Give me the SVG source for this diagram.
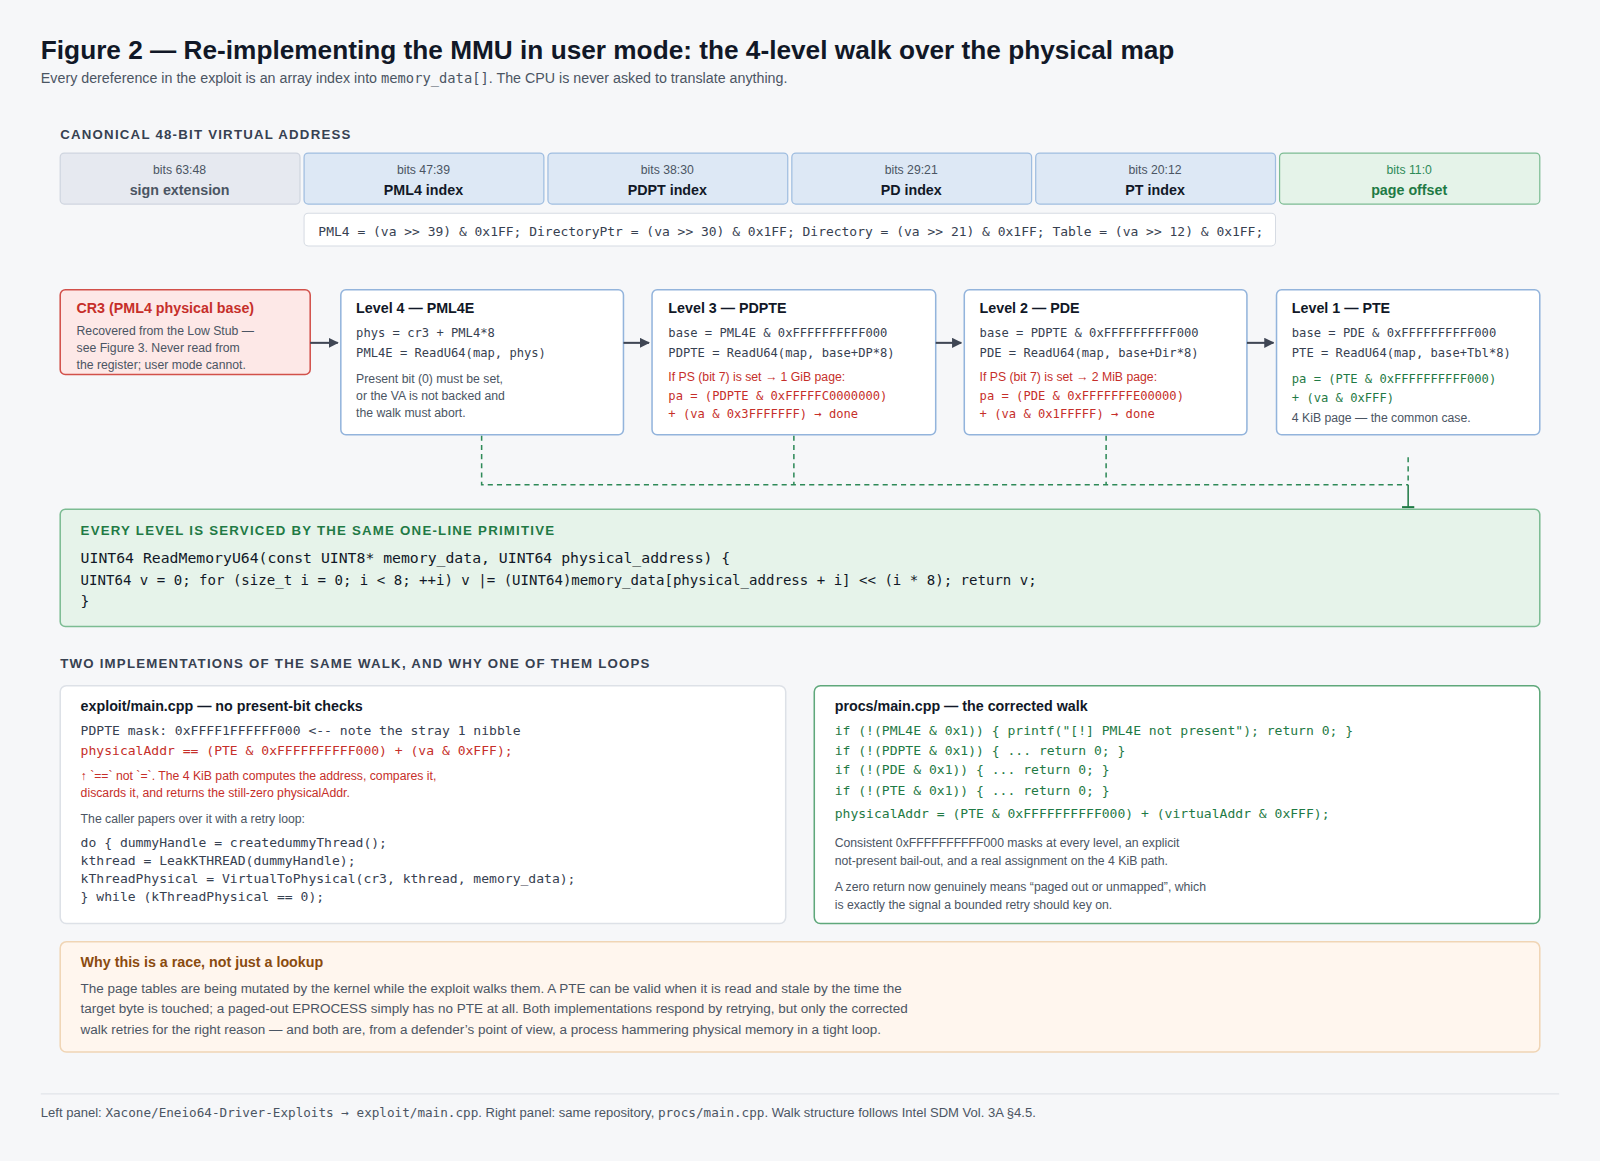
<svg xmlns="http://www.w3.org/2000/svg" width="1600" height="1161" viewBox="0 0 1600 1161">
<style>
.s{font-family:"Liberation Sans",Arial,sans-serif}
.m{font-family:"DejaVu Sans Mono","Liberation Mono",monospace}
.t{font-family:"Liberation Sans",Arial,sans-serif;font-weight:bold;font-size:14px;fill:#111827}
.n{font-family:"Liberation Sans",Arial,sans-serif;font-size:12px;fill:#4b5563}
.c{font-family:"DejaVu Sans Mono","Liberation Mono",monospace;font-size:11.9px;fill:#374151}
.p{font-size:12.8px}
.r{fill:#c62f2a}.g{fill:#1f7a45}
.sec{font-family:"Liberation Sans",Arial,sans-serif;font-weight:bold;font-size:13px;letter-spacing:1.2px;fill:#374151}
.node{fill:#fff;stroke:#93b4dc;stroke-width:1.5}
.bit{fill:#dde8f5;stroke:#9fbde0;stroke-width:1.2}
.bl{font-family:"Liberation Sans",Arial,sans-serif;font-size:12px;fill:#4b5563;text-anchor:middle}
.bb{font-family:"Liberation Sans",Arial,sans-serif;font-size:14px;font-weight:bold;fill:#111827;text-anchor:middle}
.arr{stroke:#3f4654;stroke-width:2;fill:none;marker-end:url(#ah)}
.dash{stroke:#2e8a58;stroke-width:1.5;fill:none;stroke-dasharray:5 4}
</style>
<defs>
<marker id="ah" viewBox="0 0 10 10" refX="9" refY="5" markerWidth="5" markerHeight="5" orient="auto"><path d="M0,0L10,5L0,10z" fill="#3f4654"/></marker>
</defs>
<rect width="1600" height="1161" fill="#f6f7f9"/>
<g transform="scale(1.0204)">
<text x="40" y="58" class="s" font-size="25.7" font-weight="bold" fill="#111827">Figure 2 — Re-implementing the MMU in user mode: the 4-level walk over the physical map</text>
<text x="40" y="81" class="s" font-size="14" fill="#4b5563">Every dereference in the exploit is an array index into <tspan class="m" font-size="13.5">memory_data[]</tspan>. The CPU is never asked to translate anything.</text>

<text x="59" y="136" class="sec">CANONICAL 48-BIT VIRTUAL ADDRESS</text>
<g id="bits">
<rect x="59" y="150" width="235" height="50" rx="4" fill="#e6e9f0" stroke="#cfd5df" stroke-width="1.2"/>
<text x="176" y="171" class="bl">bits 63:48</text><text x="176" y="191" class="bb" style="fill:#4b5563">sign extension</text>
<rect x="298" y="150" width="235" height="50" rx="4" class="bit"/>
<text x="415" y="171" class="bl">bits 47:39</text><text x="415" y="191" class="bb">PML4 index</text>
<rect x="537" y="150" width="235" height="50" rx="4" class="bit"/>
<text x="654" y="171" class="bl">bits 38:30</text><text x="654" y="191" class="bb">PDPT index</text>
<rect x="776" y="150" width="235" height="50" rx="4" class="bit"/>
<text x="893" y="171" class="bl">bits 29:21</text><text x="893" y="191" class="bb">PD index</text>
<rect x="1015" y="150" width="235" height="50" rx="4" class="bit"/>
<text x="1132" y="171" class="bl">bits 20:12</text><text x="1132" y="191" class="bb">PT index</text>
<rect x="1254" y="150" width="255" height="50" rx="4" fill="#e5f3e9" stroke="#7cbc93" stroke-width="1.2"/>
<text x="1381" y="171" class="bl" style="fill:#2e8a58">bits 11:0</text><text x="1381" y="191" class="bb" style="fill:#1f7a45">page offset</text>
</g>
<g id="formula">
<rect x="298" y="209" width="952" height="32" rx="4" fill="#fff" stroke="#d6dbe3"/>
<text x="312" y="231" class="m" font-size="12.4" fill="#374151" textLength="926" lengthAdjust="spacingAndGlyphs">PML4 = (va &gt;&gt; 39) &amp; 0x1FF; DirectoryPtr = (va &gt;&gt; 30) &amp; 0x1FF; Directory = (va &gt;&gt; 21) &amp; 0x1FF; Table = (va &gt;&gt; 12) &amp; 0x1FF;</text>
</g>

<g id="cr3">
<rect x="59" y="284" width="245" height="83" rx="5" fill="#fde8e7" stroke="#d2504a" stroke-width="1.5"/>
<text x="75" y="307" class="t" style="fill:#c62f2a">CR3 (PML4 physical base)</text>
<text x="75" y="328" class="n">Recovered from the Low Stub —</text>
<text x="75" y="345" class="n">see Figure 3. Never read from</text>
<text x="75" y="362" class="n">the register; user mode cannot.</text>
</g>
<g id="pml4e">
<rect x="334" y="284" width="277" height="142" rx="5" class="node"/>
<text x="349" y="307" class="t">Level 4 — PML4E</text>
<text x="349" y="330" class="c">phys = cr3 + PML4*8</text>
<text x="349" y="350" class="c">PML4E = ReadU64(map, phys)</text>
<text x="349" y="375" class="n">Present bit (0) must be set,</text>
<text x="349" y="392" class="n">or the VA is not backed and</text>
<text x="349" y="409" class="n">the walk must abort.</text>
</g>
<g id="pdpte">
<rect x="639" y="284" width="278" height="142" rx="5" class="node"/>
<text x="655" y="307" class="t">Level 3 — PDPTE</text>
<text x="655" y="330" class="c">base = PML4E &amp; 0xFFFFFFFFFF000</text>
<text x="655" y="350" class="c">PDPTE = ReadU64(map, base+DP*8)</text>
<text x="655" y="373" class="n r">If PS (bit 7) is set → 1 GiB page:</text>
<text x="655" y="392" class="c r">pa = (PDPTE &amp; 0xFFFFFC0000000)</text>
<text x="655" y="410" class="c r">+ (va &amp; 0x3FFFFFFF) → done</text>
</g>
<g id="pde">
<rect x="945" y="284" width="277" height="142" rx="5" class="node"/>
<text x="960" y="307" class="t">Level 2 — PDE</text>
<text x="960" y="330" class="c">base = PDPTE &amp; 0xFFFFFFFFFF000</text>
<text x="960" y="350" class="c">PDE = ReadU64(map, base+Dir*8)</text>
<text x="960" y="373" class="n r">If PS (bit 7) is set → 2 MiB page:</text>
<text x="960" y="392" class="c r">pa = (PDE &amp; 0xFFFFFFFE00000)</text>
<text x="960" y="410" class="c r">+ (va &amp; 0x1FFFFF) → done</text>
</g>
<g id="pte">
<rect x="1251" y="284" width="258" height="142" rx="5" class="node"/>
<text x="1266" y="307" class="t">Level 1 — PTE</text>
<text x="1266" y="330" class="c">base = PDE &amp; 0xFFFFFFFFFF000</text>
<text x="1266" y="350" class="c">PTE = ReadU64(map, base+Tbl*8)</text>
<text x="1266" y="375" class="c g">pa = (PTE &amp; 0xFFFFFFFFFF000)</text>
<text x="1266" y="394" class="c g">+ (va &amp; 0xFFF)</text>
<text x="1266" y="414" class="n">4 KiB page — the common case.</text>
</g>

<g id="connectors">
<path d="M304,336H331" class="arr"/>
<path d="M611,336H636" class="arr"/>
<path d="M917,336H942" class="arr"/>
<path d="M1222,336H1248" class="arr"/>
<path d="M472,427V475H1380" class="dash"/>
<path d="M778,427V475" class="dash"/>
<path d="M1084,427V475" class="dash"/>
<path d="M1380,448V475" class="dash"/>
<path d="M1380,475V497" stroke="#1f7a45" stroke-width="1.5"/>
<path d="M1374,497H1386" stroke="#1f7a45" stroke-width="2"/>
</g>

<g id="primitive">
<rect x="59" y="499" width="1450" height="115" rx="5" fill="#e6f3ea" stroke="#7cbc93" stroke-width="1.5"/>
<text x="79" y="524" class="sec" style="fill:#1f7a45">EVERY LEVEL IS SERVICED BY THE SAME ONE-LINE PRIMITIVE</text>
<text x="79" y="552" class="m" font-size="14.5" fill="#111827">UINT64 ReadMemoryU64(const UINT8* memory_data, UINT64 physical_address) {</text>
<text x="79" y="573" class="m" font-size="14.5" fill="#111827" textLength="937" lengthAdjust="spacingAndGlyphs">UINT64 v = 0; for (size_t i = 0; i &lt; 8; ++i) v |= (UINT64)memory_data[physical_address + i] &lt;&lt; (i * 8); return v;</text>
<text x="79" y="594" class="m" font-size="14.5" fill="#111827">}</text>
</g>

<text x="59" y="655" class="sec">TWO IMPLEMENTATIONS OF THE SAME WALK, AND WHY ONE OF THEM LOOPS</text>
<g id="left-panel">
<rect x="59" y="672" width="711" height="233" rx="6" fill="#fff" stroke="#dde1e7" stroke-width="1.5"/>
<text x="79" y="697" class="t">exploit/main.cpp — no present-bit checks</text>
<text x="79" y="720" class="c p">PDPTE mask: 0xFFFF1FFFFFF000 &lt;-- note the stray 1 nibble</text>
<text x="79" y="740" class="c p r">physicalAddr == (PTE &amp; 0xFFFFFFFFFF000) + (va &amp; 0xFFF);</text>
<text x="79" y="764" class="n r">↑ `==` not `=`. The 4 KiB path computes the address, compares it,</text>
<text x="79" y="781" class="n r">discards it, and returns the still-zero physicalAddr.</text>
<text x="79" y="807" class="n">The caller papers over it with a retry loop:</text>
<text x="79" y="830" class="c p">do { dummyHandle = createdummyThread();</text>
<text x="79" y="848" class="c p">kthread = LeakKTHREAD(dummyHandle);</text>
<text x="79" y="865" class="c p">kThreadPhysical = VirtualToPhysical(cr3, kthread, memory_data);</text>
<text x="79" y="883" class="c p">} while (kThreadPhysical == 0);</text>
</g>
<g id="right-panel">
<rect x="798" y="672" width="711" height="233" rx="6" fill="#fff" stroke="#5fa87b" stroke-width="1.5"/>
<text x="818" y="697" class="t">procs/main.cpp — the corrected walk</text>
<text x="818" y="720" class="c p g">if (!(PML4E &amp; 0x1)) { printf("[!] PML4E not present"); return 0; }</text>
<text x="818" y="740" class="c p g">if (!(PDPTE &amp; 0x1)) { ... return 0; }</text>
<text x="818" y="759" class="c p g">if (!(PDE &amp; 0x1)) { ... return 0; }</text>
<text x="818" y="779" class="c p g">if (!(PTE &amp; 0x1)) { ... return 0; }</text>
<text x="818" y="802" class="c p g">physicalAddr = (PTE &amp; 0xFFFFFFFFFF000) + (virtualAddr &amp; 0xFFF);</text>
<text x="818" y="830" class="n">Consistent 0xFFFFFFFFFF000 masks at every level, an explicit</text>
<text x="818" y="848" class="n">not-present bail-out, and a real assignment on the 4 KiB path.</text>
<text x="818" y="873" class="n">A zero return now genuinely means “paged out or unmapped”, which</text>
<text x="818" y="891" class="n">is exactly the signal a bounded retry should key on.</text>
</g>
<g id="race">
<rect x="59" y="923" width="1450" height="108" rx="6" fill="#fff6ee" stroke="#f0d5b5" stroke-width="1.5"/>
<text x="79" y="948" class="t" style="fill:#8a4b0f">Why this is a race, not just a lookup</text>
<text x="79" y="973" class="s" font-size="13.2" fill="#4b5563">The page tables are being mutated by the kernel while the exploit walks them. A PTE can be valid when it is read and stale by the time the</text>
<text x="79" y="993" class="s" font-size="13.2" fill="#4b5563">target byte is touched; a paged-out EPROCESS simply has no PTE at all. Both implementations respond by retrying, but only the corrected</text>
<text x="79" y="1013" class="s" font-size="13.2" fill="#4b5563">walk retries for the right reason — and both are, from a defender’s point of view, a process hammering physical memory in a tight loop.</text>
</g>
<line x1="40" y1="1072" x2="1528" y2="1072" stroke="#e1e4e9"/>
<text x="40" y="1095" class="s" font-size="12.8" fill="#4b5563">Left panel: <tspan class="m" font-size="12.4">Xacone/Eneio64-Driver-Exploits → exploit/main.cpp</tspan>. Right panel: same repository, <tspan class="m" font-size="12.4">procs/main.cpp</tspan>. Walk structure follows Intel SDM Vol. 3A §4.5.</text>
</g>
</svg>
